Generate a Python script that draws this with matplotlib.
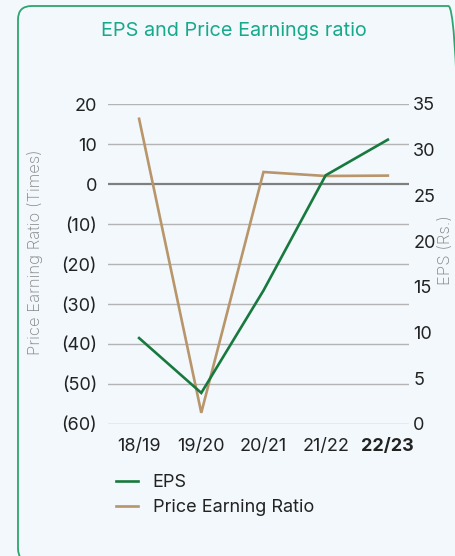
import matplotlib
matplotlib.use("Agg")
import matplotlib.pyplot as plt
from matplotlib.patches import FancyBboxPatch
from matplotlib.lines import Line2D

plt.rcParams['font.family'] = ['Inter', 'DejaVu Sans']

years = ["18/19", "19/20", "20/21", "21/22", "22/23"]
pe_ratio = [16.3, -57.2, 3.0, 2.0, 2.1]
eps = [9.4, 3.4, 14.6, 27.2, 31.1]

left_ticks = [20, 10, 0, -10, -20, -30, -40, -50, -60]
left_labels = ["20", "10", "0", "(10)", "(20)", "(30)", "(40)", "(50)", "(60)"]
right_ticks = [0, 5, 10, 15, 20, 25, 30, 35]

W, H = 455, 556
fig = plt.figure(figsize=(W / 100, H / 100), dpi=100)
bg = "#f2f8fb"
fig.patch.set_facecolor(bg)

# rounded border
box = FancyBboxPatch((18 / W, (H - 562) / H), (462 - 18) / W, (562 - 6) / H,
                     boxstyle="round,pad=0,rounding_size=0.03",
                     transform=fig.transFigure, facecolor="none",
                     edgecolor="#2ea56f", linewidth=1.3, clip_on=False,
                     mutation_aspect=W / H)
fig.patches.append(box)

fig.text(234 / W, 1 - 31 / H, "EPS and Price Earnings ratio", ha="center", va="center",
         fontsize=14.3, color="#17a98c")

ax = fig.add_axes([108 / W, (H - 424) / H, (409 - 108) / W, 320 / H])
ax.set_facecolor("none")
x = list(range(len(years)))
ax.set_xlim(-0.5, 4.34)
ax.set_ylim(-60, 20)
for t in left_ticks:
    ax.axhline(t, color="#7f7f7f" if t == 0 else "#b4b4b4",
               lw=1.6 if t == 0 else 1.0, zorder=0)
ax.set_yticks(left_ticks)
ax.set_yticklabels(left_labels)
ax.tick_params(axis="y", length=0, pad=8, labelsize=13, labelcolor="#222222")
ax.set_xticks(x)
ax.set_xticklabels(years)
ax.tick_params(axis="x", length=0, pad=10, labelsize=13, labelcolor="#222222")
ax.get_xticklabels()[-1].set_fontweight("bold")
for s in ax.spines.values():
    s.set_visible(False)

fig.text(35 / W, 1 - 252 / H, "Price Earning Ratio (Times)", rotation=90,
         ha="center", va="center", fontsize=12, color="#858585", fontweight="light")
fig.text(445 / W, 1 - 250 / H, "EPS (Rs.)", rotation=90,
         ha="center", va="center", fontsize=12, color="#858585", fontweight="light")

ax2 = ax.twinx()
ax2.set_ylim(0, 35)
ax2.set_yticks(right_ticks)
ax2.tick_params(axis="y", length=0, pad=3, labelsize=13, labelcolor="#222222")
for s in ax2.spines.values():
    s.set_visible(False)

pe_color = "#b8956a"
eps_color = "#18793e"
ax.plot(x, pe_ratio, color=pe_color, lw=1.9, zorder=3, solid_joinstyle="miter")
ax2.plot(x, eps, color=eps_color, lw=1.9, zorder=4, solid_joinstyle="miter")

handles = [Line2D([], [], color=eps_color, lw=1.9),
           Line2D([], [], color=pe_color, lw=1.9)]
fig.legend(handles, ["EPS", "Price Earning Ratio"], loc="upper left",
           bbox_to_anchor=(102 / W, 1 - 460 / H), frameon=False, fontsize=13,
           handlelength=1.2, handletextpad=0.8, labelspacing=0.42,
           labelcolor="#222222", borderpad=0.3)

fig.savefig("out.png", dpi=100, facecolor=bg)
